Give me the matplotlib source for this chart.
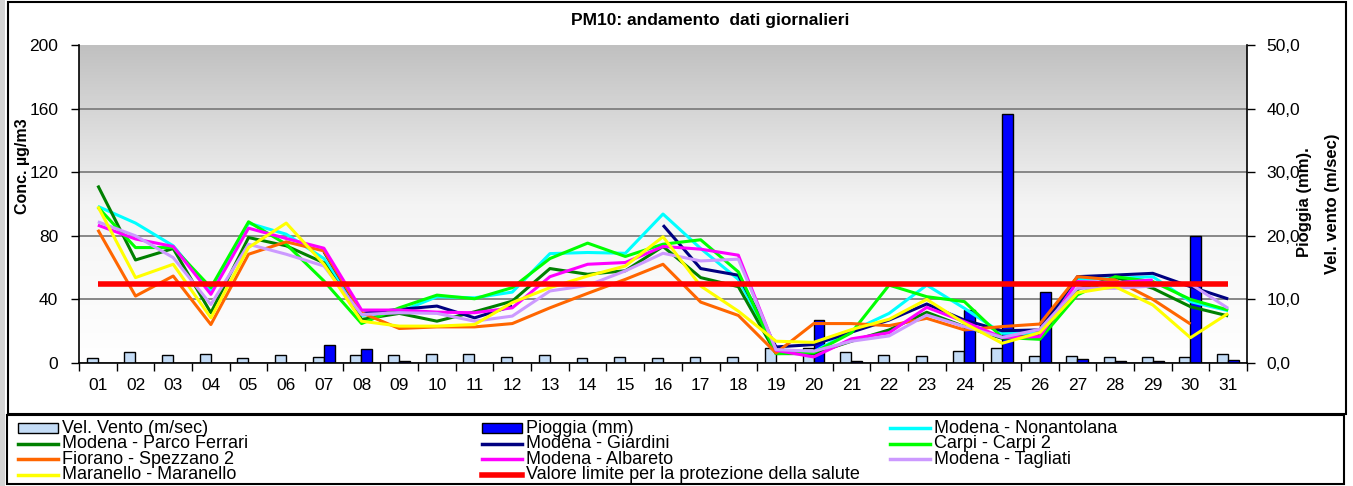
import numpy as np
import matplotlib
matplotlib.use('Agg')
import matplotlib.pyplot as plt
from matplotlib.colors import LinearSegmentedColormap
from matplotlib.patches import Rectangle
from matplotlib.lines import Line2D
from matplotlib.ticker import FuncFormatter

plt.rcParams['font.family'] = ['Liberation Sans', 'DejaVu Sans']

nan = np.nan
days = ["%02d" % d for d in range(1, 32)]

# PM10 daily values (ug/m3)
nonantolana = [98.5, 88, 73.7, 45.3, 88, 81, 65.7, 30, 32, 41.7, 41, 44.6, 68.8, 69.5, 69, 93.7,
               72, 52.6, 8.4, 7, 20, 31.2, 49, 34.4, 18.7, 18.7, 52.6, 53.2, 54.3, 38.6, 32.9]
parco_ferrari = [111.6, 64.8, 72, 31.6, 78.9, 73.7, 63, 27.4, 31.2, 26.3, 32.2, 38.9, 59.4, 55.8, 58, 73.3,
                 53.7, 48, 5.9, 5.9, 13.7, 20.8, 31.9, 22.9, 15.5, 17.6, 46.3, 53.9, 47, 35.4, 29.6]
giardini = [nan, nan, nan, nan, nan, nan, 70, 31.2, 33.7, 35.8, 28.4, 35.8, nan, nan, nan, 86.7,
            59.4, 55.2, 10.1, 11.6, 19.4, 27, 37.1, 27, 20.3, 20.8, 54.3, 55.3, 56.4, 48, 40.3]
carpi2 = [98, 72.6, 72.6, 47.4, 88.8, 74.7, 51.6, 24.8, 34.7, 42.7, 40.4, 47.4, 65.7, 75.4, 67, 74.7,
          77.5, 57.3, 5.9, 6.5, 19, 49, 41.7, 38.6, 16.1, 14.9, 42.8, 54.3, 51.2, 40, 33.3]
spezzano2 = [83.8, 42.1, 54.7, 24.2, 68.4, 76.2, 70.5, 31.6, 21.7, 22.7, 22.7, 24.8, 34.7, 43.8, 52.6, 62.1,
             38.3, 29.9, 6.3, 24.8, 24.8, 23.5, 28.1, 20.8, 22.9, 24.5, 54.3, 52.2, 40, 24.5, nan]
albareto = [86.7, 78, 73.3, 43.2, 84.8, 78.3, 72.2, 33.3, 33.3, 32, 31.6, 34.7, 54.3, 62.1, 63.2, 73.3,
            71.6, 67.8, 8, 3.8, 15.2, 19, 35, 26, 16.1, 16.6, 51.2, 50.5, 52.2, nan, nan]
tagliati = [88.8, 80, 66.3, 36.8, 74.7, 68.4, 61, 30.5, 31.6, 31.2, 26.3, 29.5, 45.3, 48.8, 57.9, 69,
            64.2, 65.3, 8.4, 7.4, 13.7, 17, 30.2, 22.9, 16.1, 21.2, 47, 47, 48.4, 49.7, 34.4]
maranello = [98.5, 53.7, 62.1, 28.4, 72.6, 88, 62.1, 26.3, 23.2, 23.2, 24.2, 38, 47.4, 54.7, 61, 79.4,
             48.4, 32.6, 13.7, 13, 21, 27.5, 40, 25, 12.4, 19.1, 44.2, 48, 36.5, 15.9, 31.2]
limite = [50] * 31

# wind (m/sec) and rain (mm), right axis
vento = [0.73, 1.7, 1.2, 1.4, 0.73, 1.2, 1.0, 1.2, 1.2, 1.4, 1.4, 1.0, 1.2, 0.73, 1.0, 0.73,
         1.0, 1.0, 2.4, 2.4, 1.7, 1.2, 1.15, 1.9, 2.4, 1.15, 1.15, 0.95, 0.95, 0.95, 1.4]
pioggia = [0, 0, 0, 0, 0, 0, 2.9, 2.15, 0.3, 0, 0, 0, 0, 0, 0, 0,
           0, 0, 0, 6.7, 0.3, 0, 0, 8.4, 39.1, 11.1, 0.7, 0.3, 0.25, 19.9, 0.5]

series = [
    ("Modena - Nonantolana", nonantolana, "#00FFFF"),
    ("Modena - Parco Ferrari", parco_ferrari, "#008000"),
    ("Modena - Giardini", giardini, "#000080"),
    ("Carpi - Carpi 2", carpi2, "#00FF00"),
    ("Fiorano - Spezzano 2", spezzano2, "#FF6600"),
    ("Modena - Albareto", albareto, "#FF00FF"),
    ("Modena - Tagliati", tagliati, "#CC99FF"),
    ("Maranello - Maranello", maranello, "#FFFF00"),
]
vento_col = "#C4DCF6"
pioggia_col = "#0000FF"
limite_col = "#FF0000"

W, H = 1353, 486
fig = plt.figure(figsize=(W / 100, H / 100), dpi=100)


def fx(px):
    return px / W


def fy(py):
    return 1 - py / H


# plot area in pixels: x 79..1247, y 45..363
ax = fig.add_axes([fx(79), fy(363), fx(1247 - 79), (363 - 45) / H])
ax2 = ax.twinx()
ax.set_zorder(ax2.get_zorder() + 1)
ax.patch.set_visible(False)

x = np.arange(len(days))

# gradient background
grad = np.linspace(0, 1, 256).reshape(-1, 1)
cmap = LinearSegmentedColormap.from_list("bg", ["#FFFFFF", "#F4F4F4", "#C0C0C0"])
ax2.imshow(grad, extent=(-0.5, 30.5, 0, 50), aspect='auto', origin='lower', cmap=cmap, zorder=0)

# bars
vento_a = np.array(vento)
pioggia_a = np.array(pioggia)
ax2.bar(x - 0.15, vento_a, width=0.29, color=vento_col, edgecolor='black', linewidth=1, zorder=2)
mask = pioggia_a > 0
ax2.bar(x[mask] + 0.14, pioggia_a[mask], width=0.29, color=pioggia_col, edgecolor='black', linewidth=1, zorder=2)

ax2.set_ylim(0, 50)
ax2.set_xlim(-0.5, 30.5)
ax2.set_yticks(np.arange(0, 51, 10))
ax2.yaxis.set_major_formatter(FuncFormatter(lambda v, p: ("%.1f" % v).replace('.', ',')))
ax2.grid(axis='y', color='#7F7F7F', linewidth=1.3)
ax2.set_axisbelow(True)
ax2.yaxis.get_gridlines()[-1].set_visible(False)
ax2.tick_params(axis='y', length=6, width=1, direction='out', pad=8, labelsize=12.5)
for s in ['top', 'left', 'bottom']:
    ax2.spines[s].set_visible(False)
ax2.spines['right'].set_linewidth(1.2)

# lines
for name, vals, col in series:
    ax.plot(x, vals, color=col, linewidth=2.2, solid_capstyle='butt', zorder=3)
ax.plot(x, limite, color=limite_col, linewidth=4, solid_capstyle='butt', zorder=4)

ax.set_ylim(0, 200)
ax.set_xlim(-0.5, 30.5)
ax.set_yticks(np.arange(0, 201, 40))
ax.set_xticks(x)
ax.set_xticklabels(days)
ax.set_xticks(np.arange(-0.5, 31, 1), minor=True)
ax.tick_params(axis='x', which='major', length=0, pad=11, labelsize=12.5)
ax.tick_params(axis='x', which='minor', length=6, width=1, direction='out')
ax.tick_params(axis='y', length=6, width=1, direction='out', pad=9, labelsize=12.5)
ax.spines['top'].set_visible(False)
ax.spines['right'].set_visible(False)
ax.spines['left'].set_linewidth(1.2)
ax.spines['bottom'].set_linewidth(1.2)

# titles and axis labels
fig.text(fx(710), fy(21), "PM10: andamento  dati giornalieri", ha='center', va='center',
         fontsize=12.5, fontweight='bold')
fig.text(fx(22), fy(166), "Conc. µg/m3", rotation=90, ha='center', va='center',
         fontsize=11.5, fontweight='bold')
fig.text(fx(1305), fy(202), "Pioggia (mm).", rotation=90, ha='center', va='center',
         fontsize=12, fontweight='bold')
fig.text(fx(1332), fy(204), "Vel. vento (m/sec)", rotation=90, ha='center', va='center',
         fontsize=12, fontweight='bold')

# frames
fig.add_artist(Rectangle((fx(8), fy(414)), fx(1346 - 8), (414 - 2) / H, transform=fig.transFigure,
                         fill=False, edgecolor='black', linewidth=1.5))
fig.add_artist(Rectangle((fx(7), fy(484)), fx(1344 - 7), (484 - 415) / H, transform=fig.transFigure,
                         fill=False, edgecolor='black', linewidth=1.5))
fig.add_artist(Rectangle((0, 0), fx(5), 1, transform=fig.transFigure, facecolor='#D4D4D4',
                         edgecolor='none'))

# legend (row-major like the original)
entries = [("bar", vento_col, "Vel. Vento (m/sec)"), ("bar", pioggia_col, "Pioggia (mm)")]
entries.append(("line", series[0][2], series[0][0]))
for name, vals, col in series[1:]:
    entries.append(("line", col, name))
entries.append(("limit", limite_col, "Valore limite per la protezione della salute"))

col_x = [18, 482, 890]
row_y = [428, 443.5, 459, 474.5]
for i, (kind, col, label) in enumerate(entries):
    cx = col_x[i % 3]
    ry = row_y[i // 3]
    if kind == "bar":
        fig.add_artist(Rectangle((fx(cx), fy(ry + 5)), fx(40), 10 / H, transform=fig.transFigure,
                                 facecolor=col, edgecolor='black', linewidth=1))
    else:
        fig.add_artist(Line2D([fx(cx), fx(cx + 40)], [fy(ry), fy(ry)], transform=fig.transFigure,
                              color=col, linewidth=4 if kind == "limit" else 2.5))
    fig.text(fx(cx + 44), fy(ry), label, ha='left', va='center', fontsize=13)

fig.savefig("out.png", dpi=100)
